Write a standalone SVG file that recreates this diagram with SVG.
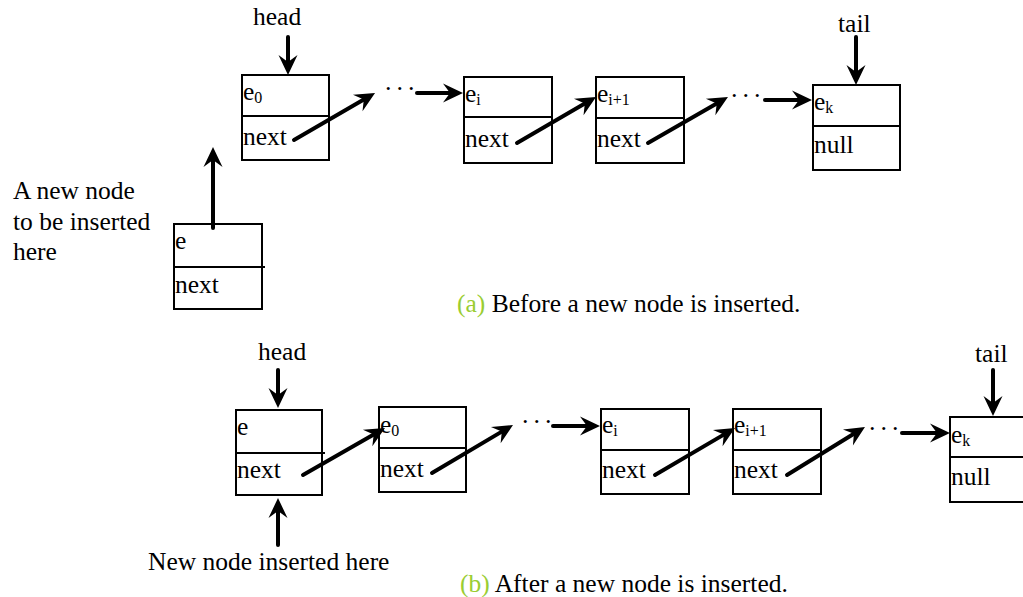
<svg xmlns="http://www.w3.org/2000/svg" width="1023" height="597" viewBox="0 0 1023 597">
  <style>
    text { font-family: "Liberation Serif", "Times New Roman", serif; font-size: 25.5px; fill: #000; }
    .sub { font-size: 16px; }
    .dots { letter-spacing: 3px; }
    .tag { fill: #9acd32; }
    .box { fill: #fff; stroke: #000; stroke-width: 2; }
    .div { stroke: #000; stroke-width: 2; }
    .arr { stroke: #000; stroke-width: 4; stroke-linecap: round; fill: none; marker-end: url(#head); }
  </style>
  <defs>
    <marker id="head" markerUnits="userSpaceOnUse" markerWidth="20" markerHeight="20" refX="7" refY="10" orient="auto" overflow="visible">
      <path d="M0,0.5 L20,10 L0,19.5 L7,10 z" fill="#000"/>
    </marker>
  </defs>

  <!-- (a) list before insertion -->
  <g id="a-head-label"><text x="253" y="25">head</text></g>
  <g id="a-tail-label"><text x="838" y="32">tail</text></g>

  <g id="a-node-e0">
    <rect class="box" x="242" y="75" width="87" height="85"/>
    <line class="div" x1="242" y1="116" x2="329" y2="116"/>
    <text x="243" y="100">e<tspan class="sub" dy="3">0</tspan></text>
    <text x="243" y="145">next</text>
  </g>
  <g id="a-node-ei">
    <rect class="box" x="464" y="77" width="88" height="86"/>
    <line class="div" x1="464" y1="117" x2="552" y2="117"/>
    <text x="465" y="102">e<tspan class="sub" dy="3">i</tspan></text>
    <text x="465" y="147">next</text>
  </g>
  <g id="a-node-ei1">
    <rect class="box" x="596" y="77" width="88" height="86"/>
    <line class="div" x1="596" y1="118" x2="684" y2="118"/>
    <text x="597" y="102">e<tspan class="sub" dy="3">i+1</tspan></text>
    <text x="597" y="147">next</text>
  </g>
  <g id="a-node-ek">
    <rect class="box" x="813" y="85" width="87" height="85"/>
    <line class="div" x1="813" y1="126" x2="900" y2="126"/>
    <text x="814" y="110">e<tspan class="sub" dy="3">k</tspan></text>
    <text x="814" y="153">null</text>
  </g>
  <g id="a-node-new">
    <rect class="box" x="174" y="224" width="88" height="85"/>
    <line class="div" x1="174" y1="267" x2="265" y2="267"/>
    <text x="175" y="249">e</text>
    <text x="175" y="293">next</text>
  </g>
  <g id="a-new-label">
    <text x="13" y="199">A new node</text>
    <text x="13" y="230">to be inserted</text>
    <text x="13" y="260">here</text>
  </g>
  <g id="a-dots">
    <text class="dots" x="384" y="97">···</text>
    <text class="dots" x="730" y="104">···</text>
  </g>
  <g id="a-caption"><text x="457" y="312"><tspan class="tag">(a)</tspan> Before a new node is inserted.</text></g>

  <!-- (b) list after insertion -->
  <g id="b-head-label"><text x="258" y="360">head</text></g>
  <g id="b-tail-label"><text x="975" y="362">tail</text></g>

  <g id="b-node-e">
    <rect class="box" x="236" y="410" width="86" height="85"/>
    <line class="div" x1="236" y1="453" x2="325" y2="453"/>
    <text x="237" y="435">e</text>
    <text x="237" y="478">next</text>
  </g>
  <g id="b-node-e0">
    <rect class="box" x="379" y="407" width="87" height="85"/>
    <line class="div" x1="379" y1="448" x2="466" y2="448"/>
    <text x="380" y="433">e<tspan class="sub" dy="3">0</tspan></text>
    <text x="380" y="477">next</text>
  </g>
  <g id="b-node-ei">
    <rect class="box" x="601" y="409" width="88" height="85"/>
    <line class="div" x1="601" y1="450" x2="689" y2="450"/>
    <text x="602" y="433">e<tspan class="sub" dy="3">i</tspan></text>
    <text x="602" y="478">next</text>
  </g>
  <g id="b-node-ei1">
    <rect class="box" x="733" y="409" width="88" height="85"/>
    <line class="div" x1="733" y1="450" x2="821" y2="450"/>
    <text x="734" y="433">e<tspan class="sub" dy="3">i+1</tspan></text>
    <text x="734" y="478">next</text>
  </g>
  <g id="b-node-ek">
    <rect class="box" x="950" y="417" width="87" height="85"/>
    <line class="div" x1="950" y1="457" x2="1037" y2="457"/>
    <text x="951" y="443">e<tspan class="sub" dy="3">k</tspan></text>
    <text x="951" y="485">null</text>
  </g>
  <g id="b-new-label"><text x="148" y="570">New node inserted here</text></g>
  <g id="b-dots">
    <text class="dots" x="521" y="430">···</text>
    <text class="dots" x="868" y="437">···</text>
  </g>
  <g id="b-caption"><text x="460" y="592"><tspan class="tag">(b)</tspan> After a new node is inserted.</text></g>

  <!-- connectors -->
  <g id="connectors">
    <!-- (a) -->
    <line class="arr" x1="288" y1="37" x2="288" y2="62"/>
    <line class="arr" x1="856" y1="37" x2="856" y2="72"/>
    <line class="arr" x1="294" y1="140" x2="363.8" y2="99.5"/>
    <line class="arr" x1="417" y1="93" x2="450" y2="93"/>
    <line class="arr" x1="517" y1="143" x2="584.8" y2="103.5"/>
    <line class="arr" x1="648" y1="143" x2="716.7" y2="103.5"/>
    <line class="arr" x1="765" y1="100" x2="799" y2="100"/>
    <line class="arr" x1="213" y1="228" x2="213" y2="160"/>
    <!-- (b) -->
    <line class="arr" x1="278" y1="370" x2="278" y2="395"/>
    <line class="arr" x1="993" y1="370" x2="993" y2="403"/>
    <line class="arr" x1="278" y1="545" x2="278" y2="511"/>
    <line class="arr" x1="303" y1="475" x2="373.7" y2="434.5"/>
    <line class="arr" x1="432" y1="473" x2="501.8" y2="431.6"/>
    <line class="arr" x1="553" y1="426" x2="587" y2="426"/>
    <line class="arr" x1="655" y1="475" x2="723.8" y2="434.6"/>
    <line class="arr" x1="787" y1="475" x2="853.9" y2="433.8"/>
    <line class="arr" x1="902" y1="433" x2="937" y2="433"/>
  </g>
</svg>
